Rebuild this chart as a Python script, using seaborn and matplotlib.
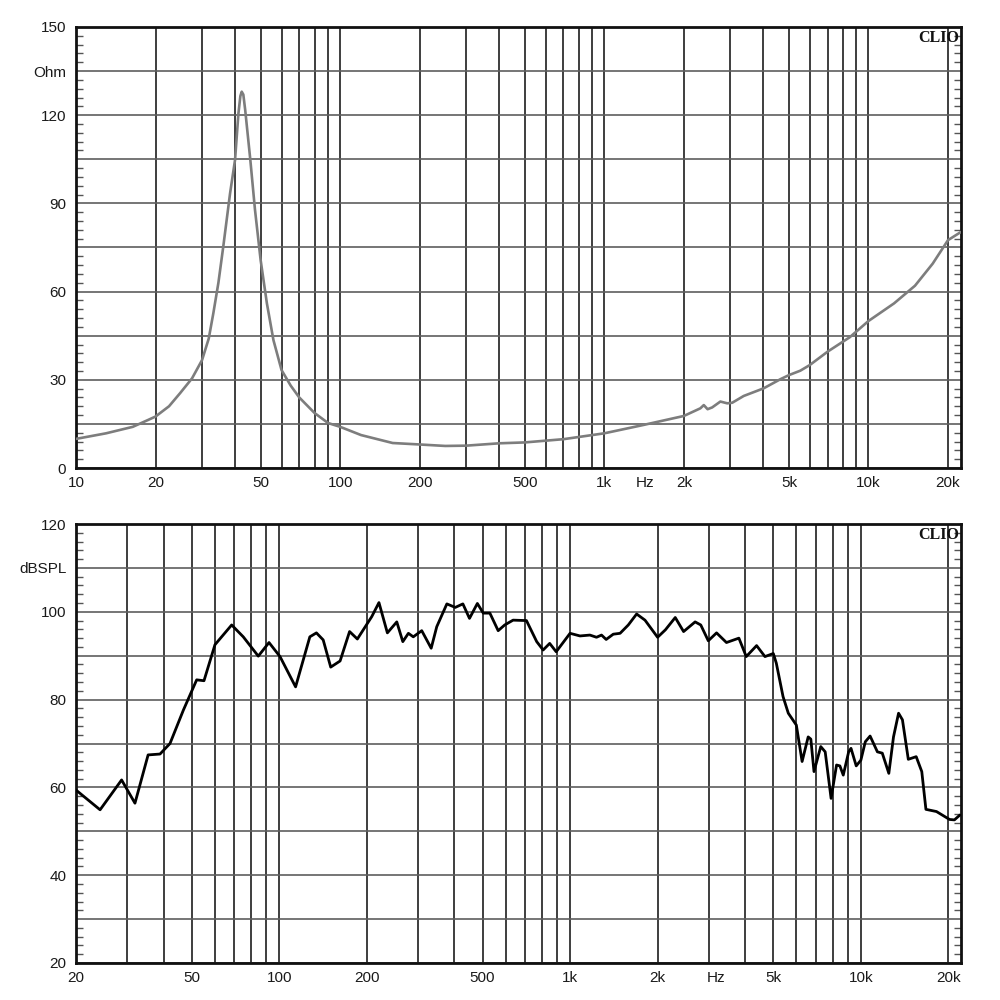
import numpy as np
import pandas as pd
import matplotlib
matplotlib.use("Agg")
import matplotlib.pyplot as plt
import seaborn as sns
from matplotlib.ticker import NullFormatter

# ---------------- data ----------------
imp_freq = [10, 13, 16.4, 18.7, 20, 22.5, 24.8, 27.5, 30, 31.8, 33.1, 34.6, 36.1, 38.3,
            40, 41.2, 41.9, 42.4, 43.0, 43.7, 45.7, 47.6, 50, 52.8, 55.9, 60, 65, 70, 80,
            90, 100, 120, 158, 200, 250, 300, 400, 500, 700, 1000, 1400, 2000, 2310,
            2380, 2460, 2560, 2750, 2920, 3050, 3370, 4010, 4640, 5000, 5520, 5990,
            7010, 8500, 10000, 12500, 15000, 17500, 20000, 22400]
imp_ohm = [9.9, 11.8, 14.0, 16.3, 17.5, 21.0, 25.5, 30.5, 36.7, 44.0, 52.6, 63.0, 75.3, 93.4,
           104.8, 120.6, 126.5, 128.0, 127.0, 121.8, 104.8, 87.8, 70.7, 56.0, 43.5, 33.3, 28.0, 24.0, 18.7,
           15.3, 14.0, 11.2, 8.5, 8.0, 7.5, 7.6, 8.4, 8.7, 9.8, 11.8, 14.6, 17.7, 20.3,
           21.4, 20.0, 20.6, 22.6, 22.0, 22.2, 24.5, 27.1, 30.2, 31.6, 33.1, 35.0,
           39.6, 44.5, 50.0, 56.0, 62.0, 69.5, 77.5, 80.3]

spl_freq = [20, 24.2, 28.7, 31.9, 35.4, 38.9, 42.1, 46.8, 52.0, 55.1, 60.1, 68.6,
            75.2, 84.7, 92.2, 100.6, 113.8, 127.4, 134.2, 141.6, 150.3, 161.9,
            174.5, 185.6, 208, 220.2, 235.4, 253.6, 266, 278, 289, 309, 333, 348,
            377, 403, 428, 451, 480, 503, 530, 566, 596, 637, 708, 768, 808, 851,
            896, 1000, 1082, 1170, 1233, 1283, 1331, 1408, 1486, 1586, 1694, 1810,
            2000, 2128, 2300, 2457, 2692, 2815, 2988, 3190, 3450, 3807, 4036, 4380,
            4680, 5000, 5120, 5400, 5630, 6000, 6280, 6590, 6730, 6900, 7280, 7540,
            7900, 8250, 8470, 8700, 9080, 9250, 9640, 10000, 10360, 10760, 11400,
            11850, 12480, 12950, 13480, 13900, 14560, 15500, 16200, 16740, 18200,
            20180, 20980, 21900]
spl_db = [59.4, 54.9, 61.7, 56.4, 67.4, 67.6, 70.0, 77.6, 84.5, 84.3, 92.5, 97.0,
          94.3, 89.9, 93.0, 89.8, 82.9, 94.3, 95.2, 93.6, 87.4, 88.8,
          95.5, 93.8, 98.9, 102.1, 95.2, 97.7, 93.2, 95.1, 94.3, 95.7, 91.7, 96.6,
          101.8, 101.0, 101.8, 98.5, 101.9, 99.7, 99.7, 95.7, 97.0, 98.1, 98.0, 93.2, 91.3, 92.8,
          90.9, 95.1, 94.5, 94.7, 94.2, 94.7, 93.7, 94.9, 95.1, 97.0, 99.5, 98.1,
          94.2, 95.9, 98.7, 95.5, 97.7, 97.0, 93.4, 95.2, 93.0, 94.0, 89.8, 92.3,
          89.8, 90.5, 88.3, 80.7, 76.9, 74.2, 65.9, 71.5, 71.0, 63.6, 69.3, 68.1,
          57.5, 65.1, 64.9, 62.8, 68.1, 68.9, 64.9, 66.2, 70.4, 71.7, 68.1,
          67.8, 63.2, 71.5, 76.9, 75.4, 66.4, 67.0, 63.6, 55.0, 54.5,
          52.7, 52.6, 53.7]

grid_freqs = [20, 30, 40, 50, 60, 70, 80, 90, 100, 200, 300, 400, 500, 600, 700,
              800, 900, 1000, 2000, 3000, 4000, 5000, 6000, 7000, 8000, 9000,
              10000, 20000]

top_xticks = [10, 20, 50, 100, 200, 500, 1000, 1429, 2000, 5000, 10000, 20000]
top_xlabels = ["10", "20", "50", "100", "200", "500", "1k", "Hz", "2k", "5k", "10k", "20k"]
bot_xticks = [20, 50, 100, 200, 500, 1000, 2000, 3180, 5000, 10000, 20000]
bot_xlabels = ["20", "50", "100", "200", "500", "1k", "2k", "Hz", "5k", "10k", "20k"]

top_yticks = [0, 15, 30, 45, 60, 75, 90, 105, 120, 135, 150]
top_ylabels = ["0", "", "30", "", "60", "", "90", "", "120", "Ohm", "150"]
bot_yticks = [20, 30, 40, 50, 60, 70, 80, 90, 100, 110, 120]
bot_ylabels = ["20", "", "40", "", "60", "", "80", "", "100", "dBSPL", "120"]

# ---------------- style ----------------
sns.set_style("white")
plt.rcParams["font.family"] = ["Liberation Sans", "DejaVu Sans"]

fig = plt.figure(figsize=(10, 10), dpi=100)
ax1 = fig.add_axes([0.076, 0.532, 0.885, 0.441])
ax2 = fig.add_axes([0.076, 0.037, 0.885, 0.439])

imp_df = pd.DataFrame({"freq": imp_freq, "ohm": imp_ohm})
spl_df = pd.DataFrame({"freq": spl_freq, "db": spl_db})

sns.lineplot(data=imp_df, x="freq", y="ohm", ax=ax1, color="#7d7d7d",
             linewidth=1.9, estimator=None, sort=False, zorder=5)
sns.lineplot(data=spl_df, x="freq", y="db", ax=ax2, color="#000000",
             linewidth=2.0, estimator=None, sort=False, zorder=5)


def style_axis(ax, xlim, ylim, xticks, xlabels, yticks, ylabels, yminor):
    ax.set_xscale("log")
    ax.set_xlim(*xlim)
    ax.set_ylim(*ylim)
    ax.set_xlabel("")
    ax.set_ylabel("")
    ax.xaxis.remove_overlapping_locs = False
    ax.set_xticks(xticks)
    ax.set_xticklabels(xlabels)
    ax.set_xticks(grid_freqs, minor=True)
    ax.xaxis.set_minor_formatter(NullFormatter())
    ax.set_yticks(yticks)
    ax.set_yticklabels(ylabels)
    ax.set_yticks(yminor, minor=True)
    ax.tick_params(axis="x", which="both", length=0, pad=6, labelsize=11,
                   labelcolor="#1a1a1a")
    ax.tick_params(axis="y", which="major", length=0, pad=7, labelsize=11,
                   labelcolor="#1a1a1a")
    ax.tick_params(axis="y", which="minor", direction="in", length=5, width=1,
                   color="#555555", left=True, right=True)
    ax.grid(False)
    ax.grid(True, which="minor", axis="x", color="#1e1e1e", linewidth=1.2)
    ax.grid(True, which="major", axis="y", color="#5e5e5e", linewidth=1.2)
    ax.set_axisbelow(True)
    for s in ax.spines.values():
        s.set_visible(True)
        s.set_color("#111111")
        s.set_linewidth(2)
    ax.text(0.998, 0.994, "CLIO", transform=ax.transAxes, ha="right", va="top",
            fontfamily="Liberation Serif", fontweight="bold", fontsize=11.5,
            color="#111111", zorder=6)


style_axis(ax1, (10, 22400), (0, 150), top_xticks, top_xlabels,
           top_yticks, top_ylabels, np.arange(0, 151, 3))
style_axis(ax2, (20, 22100), (20, 120), bot_xticks, bot_xlabels,
           bot_yticks, bot_ylabels, np.arange(20, 121, 2))

fig.savefig("out.png", dpi=100, facecolor="white")
